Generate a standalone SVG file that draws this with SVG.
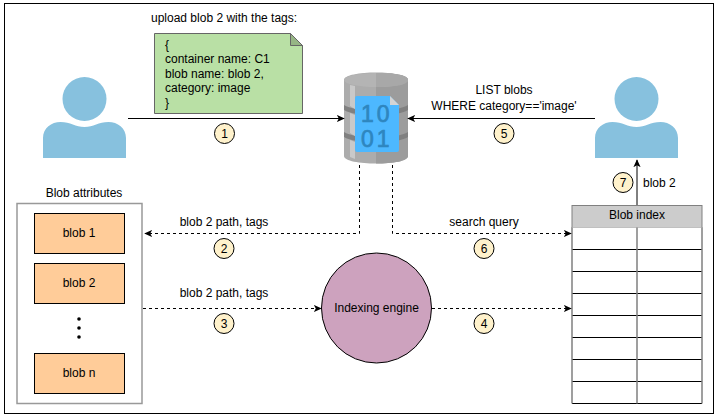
<svg xmlns="http://www.w3.org/2000/svg" width="718" height="419" viewBox="0 0 718 419">
<style>
text{font-family:"Liberation Sans",Arial,sans-serif;font-size:12px;fill:#000}
.m{text-anchor:middle}
.blob{fill:#ffcc99;stroke:#000;stroke-width:1}
.badge{fill:#fff2cc;stroke:#000;stroke-width:1}
.person{fill:#87c1de}
.c{fill:none;stroke:#000;stroke-width:1}
.d{stroke-dasharray:3 3}
.row{stroke:#000;stroke-width:1}
.col{stroke:#808080;stroke-width:1.5;fill:none}
.digit{font-size:23px;fill:#2e86bf;stroke:#2e86bf;stroke-width:.7;letter-spacing:3px}
</style>
<defs>
<marker id="a" viewBox="0 0 10 10" refX="9" refY="5" markerWidth="8" markerHeight="8" markerUnits="userSpaceOnUse" orient="auto"><path d="M0 0.5L10 5L0 9.5L2.5 5Z" fill="#000"/></marker>
<g id="person"><circle cx="0" cy="0" r="22" class="person"/><path class="person" d="M-41.500 59V39C-41.500 29-33 23-24 23C-14 23-9 28 0 28C9 28 14 23 24 23C33 23 41.500 29 41.500 39V59Z"/></g>
</defs>
<rect width="718" height="419" fill="#fff"/>
<rect id="frame" x="4.500" y="3.500" width="709" height="410" fill="#fff" stroke="#000" stroke-width="1"/>

<g id="user-left"><use href="#person" x="84.500" y="99"/></g>
<g id="user-right"><use href="#person" x="636.500" y="99"/></g>

<g id="note">
<path d="M154.500 33.500H290.500L302.500 45.500V113.500H154.500Z" fill="#b9e0a5" stroke="#666" stroke-width="1"/>
<path d="M290.500 33.500V45.500H302.500Z" fill="#96b585" stroke="#666" stroke-width="1"/>
<text x="165" y="49">{</text><text x="165" y="63">container name: C1</text><text x="165" y="78">blob name: blob 2,</text><text x="165" y="92">category: image</text><text x="165" y="107">}</text>
</g>
<text x="151" y="22">upload blob 2 with the tags:</text>

<g id="database">
<path d="M344 80C344 70 408 70 408 80V156C408 166 344 166 344 156Z" fill="#acacac"/>
<path d="M376 73C394 73 408 75 408 80V156C408 161 394 163.500 376 163.500Z" fill="#9c9c9c"/>
<ellipse cx="376" cy="80" rx="32" ry="7" fill="#b4b4b4"/>
<path d="M376 73C394 73 408 75 408 80C408 85 394 87 376 87Z" fill="#a8a8a8"/>
<path d="M344 105C354 112 398 112 408 105V110C398 117 354 117 344 110Z" fill="#808080"/>
<path d="M344 132C354 139 398 139 408 132V137C398 144 354 144 344 137Z" fill="#808080"/>
<path d="M350 85L355 86V109L350 106ZM350 113L355 115V136L350 133ZM350 140L355 142V159L350 157Z" fill="#c9c9c9"/>
<path d="M355 96H390L399 105V150Q399 152 397 152H357Q355 152 355 150V98Q355 96 357 96Z" fill="#4db8ff"/>
<path d="M390 96V105H399Z" fill="#d4d4d4"/>
<text x="361" y="122" class="digit">10</text>
<text x="361" y="147" class="digit">01</text>
</g>

<g id="blob-attributes">
<text x="84" y="197" class="m">Blob attributes</text>
<rect x="17" y="203.500" width="125" height="200" fill="#fff" stroke="#999" stroke-width="1.500"/>
</g>
<g id="blob-1"><rect class="blob" x="34.500" y="213.500" width="90" height="40"/><text x="79" y="237" class="m">blob 1</text></g>
<g id="blob-2"><rect class="blob" x="34.500" y="263.500" width="90" height="40"/><text x="79" y="287" class="m">blob 2</text></g>
<g id="ellipsis"><circle cx="79" cy="319" r="1.800"/><circle cx="79" cy="328" r="1.800"/><circle cx="79" cy="337" r="1.800"/></g>
<g id="blob-n"><rect class="blob" x="34.500" y="353.500" width="90" height="40"/><text x="79" y="377" class="m">blob n</text></g>

<g id="indexing-engine"><circle cx="376.500" cy="308" r="55" fill="#cda2be" stroke="#000" stroke-width="1"/><text x="376.500" y="312" class="m">Indexing engine</text></g>

<g id="blob-index">
<rect x="572" y="205.500" width="130" height="22" fill="#cccccc" stroke="#808080" stroke-width="1"/>
<text x="637" y="219" class="m">Blob index</text>
<rect x="572" y="227.500" width="130" height="176" fill="#fff"/>
<path class="row" d="M572 249.500H702M572 271.500H702M572 293.500H702M572 315.500H702M572 337.500H702M572 359.500H702M572 381.500H702M572 403.500H702"/>
<path class="col" d="M572 227.500V403.500M637 227.500V403.500M702 227.500V403.500"/>
</g>

<g id="connectors">
<path class="c" d="M128 118.500H344" marker-end="url(#a)"/>
<path class="c" d="M595 118.500H408" marker-end="url(#a)"/>
<path class="c d" d="M359.500 165V233.500H145" marker-end="url(#a)"/>
<path class="c d" d="M392.500 165V233.500H571" marker-end="url(#a)"/>
<path class="c d" d="M143 308.500H321" marker-end="url(#a)"/>
<path class="c d" d="M432 308.500H571" marker-end="url(#a)"/>
<path class="c" d="M637 205V160" marker-end="url(#a)"/>
</g>

<g id="labels">
<text x="504" y="94" class="m">LIST blobs</text>
<text x="504" y="110" class="m">WHERE category=='image'</text>
<text x="224" y="226" class="m">blob 2 path, tags</text>
<text x="224" y="297" class="m">blob 2 path, tags</text>
<text x="484" y="226" class="m">search query</text>
<text x="643" y="187">blob 2</text>
</g>

<g id="badge-1"><circle class="badge" cx="224.500" cy="133.500" r="10"/><text x="224.500" y="138" class="m">1</text></g>
<g id="badge-2"><circle class="badge" cx="224" cy="248.500" r="10"/><text x="224" y="253" class="m">2</text></g>
<g id="badge-3"><circle class="badge" cx="224" cy="323.500" r="10"/><text x="224" y="328" class="m">3</text></g>
<g id="badge-4"><circle class="badge" cx="484" cy="323.500" r="10"/><text x="484" y="328" class="m">4</text></g>
<g id="badge-5"><circle class="badge" cx="504" cy="133.500" r="10"/><text x="504" y="138" class="m">5</text></g>
<g id="badge-6"><circle class="badge" cx="484" cy="248.500" r="10"/><text x="484" y="253" class="m">6</text></g>
<g id="badge-7"><circle class="badge" cx="623" cy="182.500" r="10"/><text x="623" y="187" class="m">7</text></g>
</svg>
